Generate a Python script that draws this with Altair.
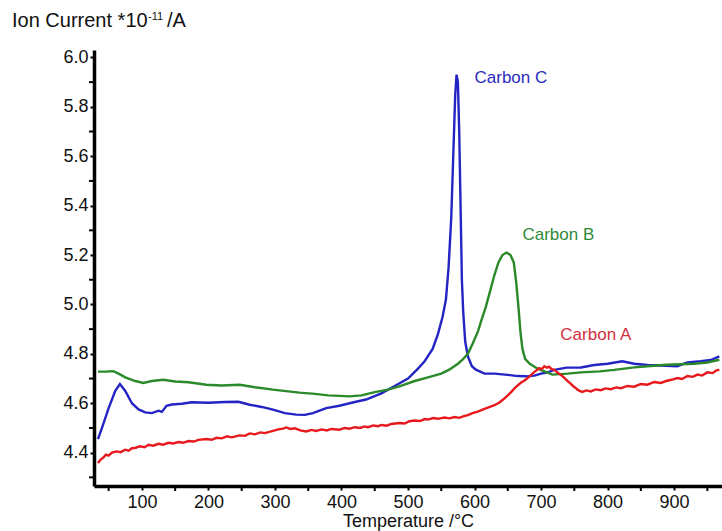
import altair as alt
import pandas as pd

# ---- data ----
blue_T = [34, 40, 50, 60, 67, 75, 85, 95, 105, 115, 125, 130, 137, 145, 160, 175, 200, 225, 245, 262,
          280, 297, 315, 332, 345, 357, 377, 397, 420, 437, 460, 480, 500, 515, 525, 537, 545, 552, 557,
          561, 565, 568, 571, 573, 575, 577, 579, 581, 583, 586, 590, 596, 602, 615, 630, 650, 665, 678,
          690, 700, 710, 720, 738, 760, 780, 800, 822, 840, 860, 888, 905, 920, 940, 955, 968]
blue_V = [4.455, 4.50, 4.58, 4.65, 4.678, 4.65, 4.60, 4.575, 4.563, 4.56, 4.57, 4.565, 4.59, 4.595,
          4.598, 4.604, 4.602, 4.605, 4.606, 4.594, 4.585, 4.574, 4.56, 4.554, 4.553, 4.56, 4.58, 4.59,
          4.605, 4.615, 4.64, 4.67, 4.70, 4.74, 4.77, 4.82, 4.88, 4.95, 5.02, 5.15, 5.35, 5.60, 5.85,
          5.93, 5.90, 5.70, 5.40, 5.10, 4.97, 4.85, 4.79, 4.75, 4.736, 4.72, 4.72, 4.715, 4.71, 4.709,
          4.712, 4.72, 4.725, 4.735, 4.744, 4.745, 4.755, 4.76, 4.77, 4.76, 4.755, 4.752, 4.75, 4.765,
          4.77, 4.775, 4.79]

green_T = [34, 45, 57, 65, 75, 90, 102, 115, 132, 150, 170, 197, 220, 247, 270, 297, 320, 337, 360,
           380, 397, 412, 430, 450, 470, 487, 510, 530, 550, 562, 575, 582, 590, 597, 605, 612, 617,
           624, 630, 636, 642, 648, 654, 659, 663, 666, 669, 672, 676, 683, 695, 717, 740, 760, 788,
           810, 840, 860, 888, 910, 930, 950, 968]
green_V = [4.728, 4.728, 4.73, 4.72, 4.705, 4.69, 4.682, 4.69, 4.695, 4.688, 4.685, 4.675, 4.672,
           4.675, 4.665, 4.655, 4.648, 4.643, 4.638, 4.632, 4.63, 4.628, 4.632, 4.645, 4.655, 4.668,
           4.69, 4.705, 4.72, 4.736, 4.76, 4.777, 4.80, 4.84, 4.89, 4.95, 4.99, 5.06, 5.12, 5.17, 5.20,
           5.21, 5.20, 5.17, 5.08, 4.99, 4.89, 4.82, 4.78, 4.76, 4.74, 4.716, 4.72, 4.725, 4.729, 4.735,
           4.745, 4.75, 4.756, 4.758, 4.76, 4.765, 4.776]

red_T = [34, 38, 42, 46, 50, 55, 62, 68, 75, 80, 85, 91, 97, 104, 110, 117, 125, 132, 140, 147, 155,
         162, 170, 178, 185, 197, 205, 212, 220, 228, 235, 247, 255, 262, 270, 278, 285, 297, 305, 312,
         317, 323, 330, 338, 347, 355, 362, 370, 378, 385, 397, 405, 412, 420, 428, 435, 440, 448, 455,
         460, 468, 475, 487, 495, 502, 510, 518, 525, 530, 538, 545, 555, 562, 570, 577, 584, 590, 597,
         605, 612, 620, 628, 637, 643, 650, 655, 660, 665, 670, 674, 678, 683, 688, 693, 697, 701, 705,
         709, 712, 716, 720, 724, 727, 730, 733, 737, 740, 744, 748, 752, 755, 758, 762, 768, 775, 782,
         790, 797, 805, 813, 820, 830, 840, 850, 860, 870, 880, 888, 896, 905, 912, 920, 928, 935, 942,
         950, 958, 963, 968]
red_V = [4.358, 4.372, 4.38, 4.392, 4.388, 4.40, 4.405, 4.402, 4.412, 4.408, 4.418, 4.42, 4.426,
         4.422, 4.432, 4.428, 4.436, 4.432, 4.44, 4.437, 4.443, 4.44, 4.447, 4.445, 4.452, 4.455,
         4.452, 4.46, 4.458, 4.466, 4.462, 4.47, 4.468, 4.478, 4.474, 4.482, 4.479, 4.488, 4.494,
         4.497, 4.502, 4.496, 4.499, 4.49, 4.486, 4.492, 4.488, 4.494, 4.49, 4.496, 4.493, 4.50,
         4.497, 4.503, 4.50, 4.506, 4.503, 4.51, 4.507, 4.512, 4.509, 4.516, 4.52, 4.518, 4.527, 4.53,
         4.528, 4.536, 4.534, 4.54, 4.537, 4.542, 4.539, 4.544, 4.541, 4.548, 4.552, 4.56, 4.566,
         4.574, 4.582, 4.59, 4.602, 4.615, 4.632, 4.645, 4.66, 4.672, 4.684, 4.69, 4.698, 4.71, 4.722,
         4.733, 4.742, 4.738, 4.75, 4.744, 4.748, 4.738, 4.735, 4.726, 4.72, 4.714, 4.708, 4.698,
         4.69, 4.68, 4.67, 4.662, 4.655, 4.65, 4.646, 4.652, 4.648, 4.656, 4.653, 4.66, 4.657, 4.664,
         4.661, 4.67, 4.667, 4.678, 4.675, 4.686, 4.682, 4.69, 4.695, 4.702, 4.698, 4.71, 4.707,
         4.716, 4.712, 4.725, 4.722, 4.732, 4.736]

series_names = ["Carbon C", "Carbon B", "Carbon A"]
series_colors = ["#2424c4", "#2a8a2a", "#e8191c"]
label_colors = ["#2b2bbd", "#2f8a3a", "#d3303f"]
label_T = [600, 672, 729]
label_V = [5.918, 5.283, 4.878]

x_major = [100, 200, 300, 400, 500, 600, 700, 800, 900]
x_minor = [50, 150, 250, 350, 450, 550, 650, 750, 850, 950]
y_major = [4.4, 4.6, 4.8, 5.0, 5.2, 5.4, 5.6, 5.8, 6.0]
y_minor = [4.3, 4.5, 4.7, 4.9, 5.1, 5.3, 5.5, 5.7, 5.9]

x_domain = [28, 972]
y_domain = [4.265, 6.03]

FONT = "Liberation Sans"
W, H = 628, 436

# ---- tables ----
rows = []
for name, T, V in [("Carbon C", blue_T, blue_V), ("Carbon B", green_T, green_V), ("Carbon A", red_T, red_V)]:
    for i, (t, v) in enumerate(zip(T, V)):
        rows.append({"series": name, "T": t, "V": v, "order": i})
df = pd.DataFrame(rows)
lab_df = pd.DataFrame({"label": series_names, "T": label_T, "V": label_V, "col": label_colors})
xminor_df = pd.DataFrame({"T": x_minor})
yminor_df = pd.DataFrame({"V": y_minor})

x_scale = alt.Scale(domain=x_domain, nice=False, zero=False)
y_scale = alt.Scale(domain=y_domain, nice=False, zero=False)

x_axis = alt.Axis(
    values=x_major, format="d",
    title="Temperature /°C", titleFont=FONT, titleFontSize=18, titleFontWeight="normal",
    titleColor="#111", titlePadding=1,
    labelFont=FONT, labelFontSize=18, labelColor="#111", labelPadding=3,
    tickSize=4, tickWidth=2, tickColor="#000",
    domainColor="#000", domainWidth=3.5, grid=False, labelFlush=False, labelOverlap=False,
)
y_axis = alt.Axis(
    values=y_major, format=".1f",
    title="",
    labelFont=FONT, labelFontSize=18, labelColor="#111", labelPadding=2,
    tickSize=4, tickWidth=2, tickColor="#000",
    domainColor="#000", domainWidth=3.5, grid=False, labelFlush=False, labelOverlap=False,
)

color_scale = alt.Scale(domain=series_names, range=series_colors)

lines = alt.Chart(df).mark_line(strokeWidth=2.4, clip=True).encode(
    x=alt.X("T:Q", scale=x_scale, axis=x_axis),
    y=alt.Y("V:Q", scale=y_scale, axis=y_axis),
    color=alt.Color("series:N", scale=color_scale, legend=None),
    order="order:Q",
    detail="series:N",
)

# minor ticks (outside the axis lines)
xminor = alt.Chart(xminor_df).mark_rule(color="#000", strokeWidth=2).encode(
    x=alt.X("T:Q", scale=x_scale, axis=x_axis),
    y=alt.value(H + 1),
    y2=alt.value(H + 5),
)
yminor = alt.Chart(yminor_df).mark_rule(color="#000", strokeWidth=2).encode(
    y=alt.Y("V:Q", scale=y_scale, axis=y_axis),
    x=alt.value(-5),
    x2=alt.value(-1),
)

labels = alt.Chart(lab_df).mark_text(
    align="left", baseline="middle", font=FONT, fontSize=17
).encode(
    x=alt.X("T:Q", scale=x_scale, axis=x_axis),
    y=alt.Y("V:Q", scale=y_scale, axis=y_axis),
    text="label:N",
    color=alt.Color("col:N", scale=None, legend=None),
)

title_main = alt.Chart(pd.DataFrame({"t": ["Ion Current *10"]})).mark_text(
    align="left", baseline="alphabetic", font=FONT, fontSize=20, color="#111"
).encode(x=alt.value(-82), y=alt.value(-23), text="t:N")
title_sup = alt.Chart(pd.DataFrame({"t": ["-11"]})).mark_text(
    align="left", baseline="alphabetic", font=FONT, fontSize=11, color="#111"
).encode(x=alt.value(54), y=alt.value(-30), text="t:N")
title_unit = alt.Chart(pd.DataFrame({"t": ["/A"]})).mark_text(
    align="left", baseline="alphabetic", font=FONT, fontSize=20, color="#111"
).encode(x=alt.value(73), y=alt.value(-23), text="t:N")

chart = alt.layer(lines, xminor, yminor, labels, title_main, title_sup, title_unit).properties(
    width=W, height=H,
    autosize="none",
    padding={"left": 94, "top": 50, "right": 0, "bottom": 45},
    background="white",
).configure_view(strokeWidth=0)

chart.save("out.html", embed_options={"renderer": "svg", "actions": False})
